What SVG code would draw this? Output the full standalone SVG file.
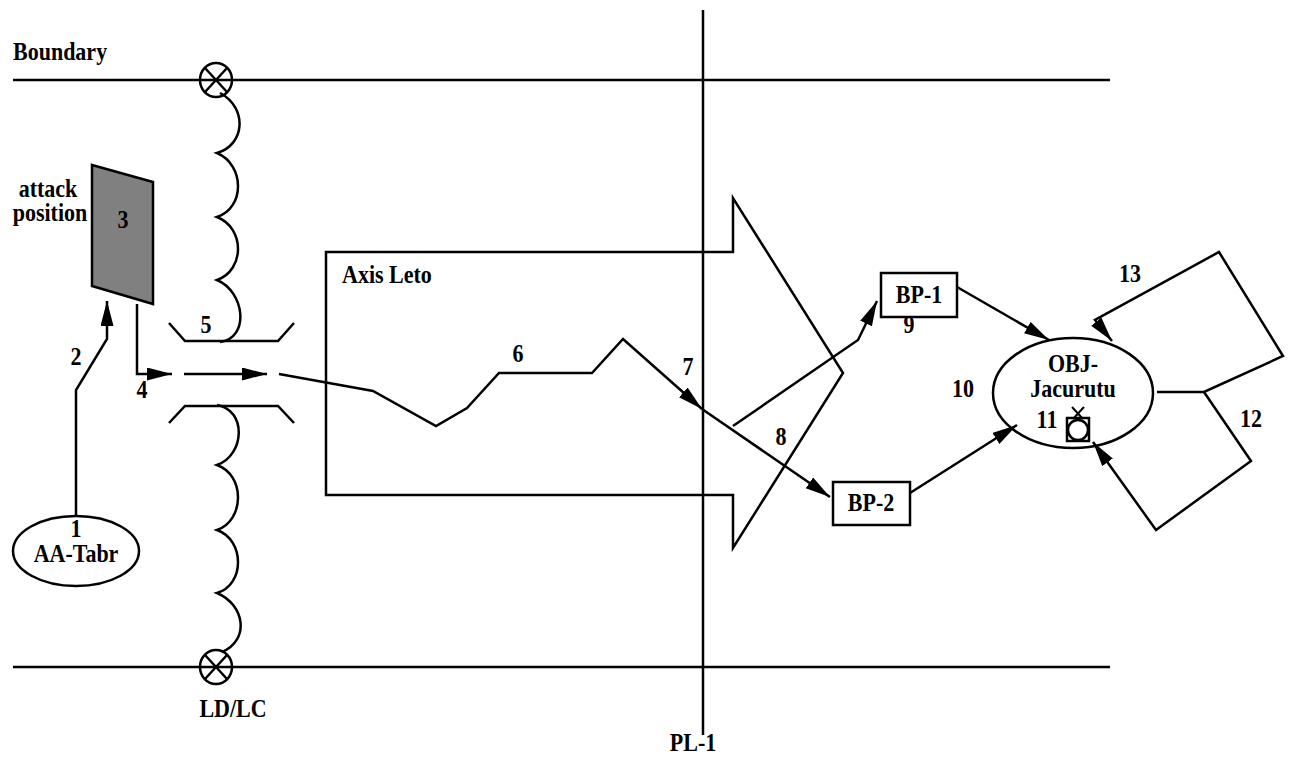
<svg xmlns="http://www.w3.org/2000/svg" width="1291" height="761" viewBox="0 0 1291 761">
<style>
.l{fill:none;stroke:#000;stroke-width:2.5;stroke-linejoin:miter}
.t{font-family:"Liberation Serif","Times New Roman",serif;font-weight:bold;font-size:22px;fill:#000}
.m{text-anchor:middle}
</style>
<defs>
<marker id="ah" markerUnits="userSpaceOnUse" markerWidth="26" markerHeight="14" refX="25" refY="6.5" orient="auto">
<path d="M0,0 L25,6.5 L0,13 z" fill="#000"/>
</marker>
</defs>
<rect width="1291" height="761" fill="#fff"/>
<g id="boundaries">
<line class="l" x1="13" y1="80" x2="1110" y2="80"/>
<line class="l" x1="13" y1="667" x2="1110" y2="667"/>
<text class="t" transform="translate(13 60) scale(1 1.13)">Boundary</text>
</g>
<g id="pl1">
<line class="l" x1="703" y1="10" x2="703" y2="735"/>
<text class="t m" transform="translate(693 751) scale(1 1.13)">PL-1</text>
</g>
<g id="ldlc">
<ellipse class="l" cx="216" cy="80" rx="16" ry="17"/>
<line class="l" x1="205" y1="68" x2="227" y2="92"/>
<line class="l" x1="227" y1="68" x2="205" y2="92"/>
<ellipse class="l" cx="216" cy="667" rx="16" ry="17"/>
<line class="l" x1="205" y1="655" x2="227" y2="679"/>
<line class="l" x1="227" y1="655" x2="205" y2="679"/>
<path class="l" d="M220,93 C248,108 245,145 217,153 C245,165 245,208 217,217 C245,228 245,270 217,280 C245,292 250,338 220,342"/>
<path class="l" d="M217,405 C247,410 245,455 217,465 C245,475 245,520 217,530 C245,540 245,585 217,593 C245,605 250,640 222,652"/>
<text class="t m" transform="translate(233 717) scale(1 1.13)">LD/LC</text>
</g>
<g id="gap">
<polyline class="l" points="169,323 185,341 278,341 294,323"/>
<polyline class="l" points="169,423 185,406 278,406 294,423"/>
<text class="t m" transform="translate(206 333) scale(1 1.13)">5</text>
</g>
<g id="attack-position">
<polygon points="92,165 153,182 153,304 92,286" fill="#808080" stroke="#000" stroke-width="2.5"/>
<text class="t m" transform="translate(123 228) scale(1 1.13)">3</text>
<text class="t m" transform="translate(48 197) scale(1 1.13)">attack</text>
<text class="t m" transform="translate(50 221) scale(1 1.13)">position</text>
</g>
<g id="aa-tabr">
<ellipse class="l" cx="76" cy="551" rx="63" ry="35"/>
<text class="t m" transform="translate(76 537) scale(1 1.13)">1</text>
<text class="t m" transform="translate(76 562) scale(1 1.13)">AA-Tabr</text>
</g>
<g id="axis-leto">
<polygon class="l" points="326,252 733,252 733,198 843,373 733,548 733,495 326,495"/>
<text class="t" transform="translate(342 283) scale(1 1.13)">Axis Leto</text>
</g>
<g id="bp1">
<rect class="l" x="881" y="273" width="76" height="44"/>
<text class="t m" transform="translate(919 303) scale(1 1.13)">BP-1</text>
</g>
<g id="bp2">
<rect class="l" x="833" y="482" width="77" height="43"/>
<text class="t m" transform="translate(871 511) scale(1 1.13)">BP-2</text>
</g>
<g id="objective">
<ellipse class="l" cx="1073" cy="393" rx="80" ry="55"/>
<text class="t m" transform="translate(1073 372) scale(1 1.13)">OBJ-</text>
<text class="t m" transform="translate(1073 397) scale(1 1.13)">Jacurutu</text>
<text class="t m" transform="translate(1047 428) scale(1 1.13)">11</text>
<rect class="l" x="1067" y="418" width="22" height="23"/>
<circle class="l" cx="1078" cy="430" r="10"/>
<line x1="1072" y1="407" x2="1083" y2="419" stroke="#000" stroke-width="2"/>
<line x1="1084" y1="407" x2="1073" y2="419" stroke="#000" stroke-width="2"/>
</g>
<g id="connectors">
<polyline class="l" points="76,516 76,390 107,339 107,301" marker-end="url(#ah)"/>
<polyline class="l" points="137,304 137,374 172,374" marker-end="url(#ah)"/>
<line class="l" x1="184" y1="374" x2="267" y2="374" marker-end="url(#ah)"/>
<polyline class="l" points="279,374 373,391 436,426 467,408 499,373 592,373 623,339 702,409" marker-end="url(#ah)"/>
<line class="l" x1="702" y1="409" x2="830" y2="497" marker-end="url(#ah)"/>
<polyline class="l" points="733,426 858,340 877,301" marker-end="url(#ah)"/>
<line class="l" x1="957" y1="287" x2="1049" y2="340" marker-end="url(#ah)"/>
<line class="l" x1="910" y1="493" x2="1017" y2="425" marker-end="url(#ah)"/>
<polyline class="l" points="1157,392 1204,392 1283,356 1219,252 1095,320 1112,341" marker-end="url(#ah)"/>
<polyline class="l" points="1204,392 1251,461 1156,530 1093,442" marker-end="url(#ah)"/>
<text class="t m" transform="translate(76 365) scale(1 1.13)">2</text>
<text class="t m" transform="translate(142 398) scale(1 1.13)">4</text>
<text class="t m" transform="translate(518 362) scale(1 1.13)">6</text>
<text class="t m" transform="translate(688 375) scale(1 1.13)">7</text>
<text class="t m" transform="translate(781 445) scale(1 1.13)">8</text>
<text class="t m" transform="translate(909 333) scale(1 1.13)">9</text>
<text class="t m" transform="translate(963 397) scale(1 1.13)">10</text>
<text class="t m" transform="translate(1251 427) scale(1 1.13)">12</text>
<text class="t m" transform="translate(1130 282) scale(1 1.13)">13</text>
</g>
</svg>
